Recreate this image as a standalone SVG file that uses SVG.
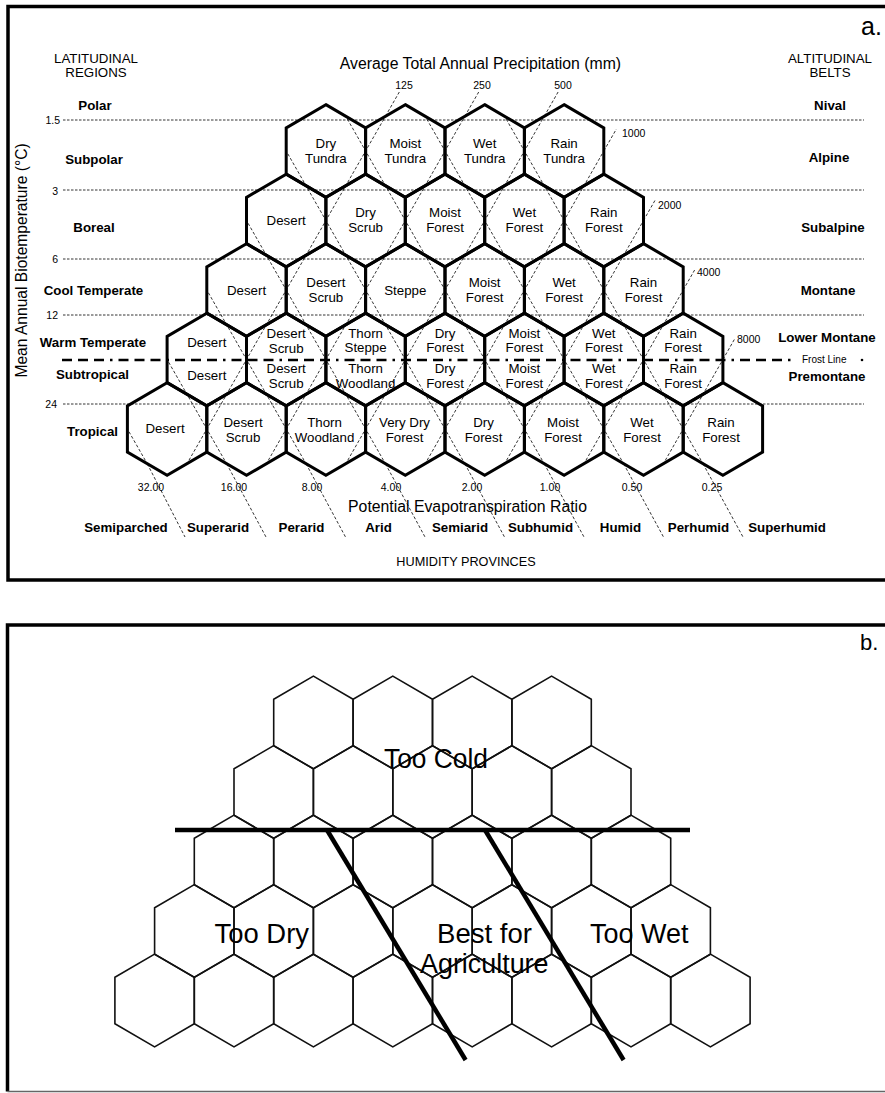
<svg xmlns="http://www.w3.org/2000/svg" width="885" height="1093" viewBox="0 0 885 1093">
<style>
text { font-family: "Liberation Sans", Arial, Helvetica, sans-serif; fill: #000; }
.hl { font-size: 13.3px; text-anchor: middle; }
.b { font-size: 13.3px; font-weight: bold; text-anchor: middle; }
.n { font-size: 10.5px; }
.nc { font-size: 10.5px; text-anchor: middle; }
.t { font-size: 15.8px; text-anchor: middle; }
.cap { font-size: 13.3px; text-anchor: middle; }
.ha { fill: none; stroke: #000; stroke-width: 3; }
.hb { fill: none; stroke: #111; stroke-width: 1.6; }
.g { stroke: #000; stroke-width: 0.8; stroke-dasharray: 3 2; fill: none; }
.hz { stroke: #000; stroke-width: 0.8; stroke-dasharray: 2.5 1.5; fill: none; }
.frost { stroke: #000; stroke-width: 2.6; stroke-dasharray: 10 6 10 6 10 6 2.5 6; fill: none; }
.frame { fill: none; stroke: #000; stroke-width: 3.5; }
.thick { stroke: #000; stroke-width: 4.5; fill: none; }
.big { font-size: 27px; }
</style>
<defs>
<polygon id="hx" points="0,-46.33 39.7,-23.17 39.7,23.17 0,46.33 -39.7,23.17 -39.7,-23.17"/>
<clipPath id="hexclip">
<use href="#hx" x="325.9" y="151"/><use href="#hx" x="405.3" y="151"/><use href="#hx" x="484.7" y="151"/><use href="#hx" x="564.1" y="151"/>
<use href="#hx" x="286.2" y="220.5"/><use href="#hx" x="365.6" y="220.5"/><use href="#hx" x="445" y="220.5"/><use href="#hx" x="524.4" y="220.5"/><use href="#hx" x="603.8" y="220.5"/>
<use href="#hx" x="246.5" y="290"/><use href="#hx" x="325.9" y="290"/><use href="#hx" x="405.3" y="290"/><use href="#hx" x="484.7" y="290"/><use href="#hx" x="564.1" y="290"/><use href="#hx" x="643.5" y="290"/>
<use href="#hx" x="206.8" y="359.5"/><use href="#hx" x="286.2" y="359.5"/><use href="#hx" x="365.6" y="359.5"/><use href="#hx" x="445" y="359.5"/><use href="#hx" x="524.4" y="359.5"/><use href="#hx" x="603.8" y="359.5"/><use href="#hx" x="683.2" y="359.5"/>
<use href="#hx" x="167.1" y="429"/><use href="#hx" x="246.5" y="429"/><use href="#hx" x="325.9" y="429"/><use href="#hx" x="405.3" y="429"/><use href="#hx" x="484.7" y="429"/><use href="#hx" x="564.1" y="429"/><use href="#hx" x="643.5" y="429"/><use href="#hx" x="722.9" y="429"/>
</clipPath>
</defs>
<rect width="885" height="1093" fill="#fff"/>

<!-- Panel a frame -->
<path class="frame" d="M885,6.5 H8 V580 H885"/>
<text x="861" y="35" style="font-size:25px">a.</text>

<!-- Header texts -->
<text class="cap" x="96" y="63">LATITUDINAL</text>
<text class="cap" x="96" y="77">REGIONS</text>
<text class="cap" x="830" y="63">ALTITUDINAL</text>
<text class="cap" x="830" y="77">BELTS</text>
<text class="t" x="480.5" y="69">Average Total Annual Precipitation (mm)</text>
<text class="t" transform="translate(26.5,260.5) rotate(-90)" style="font-size:15.6px">Mean Annual Biotemperature (°C)</text>

<!-- Latitudinal regions -->
<g id="latitudinal-regions">
<text class="b" x="95" y="110">Polar</text>
<text class="b" x="94" y="164">Subpolar</text>
<text class="b" x="94" y="232">Boreal</text>
<text class="b" x="93.5" y="295">Cool Temperate</text>
<text class="b" x="93" y="347">Warm Temperate</text>
<text class="b" x="92.5" y="379">Subtropical</text>
<text class="b" x="92.5" y="436">Tropical</text>
</g>
<g id="altitudinal-belts">
<text class="b" x="830" y="110">Nival</text>
<text class="b" x="829" y="162">Alpine</text>
<text class="b" x="833" y="232">Subalpine</text>
<text class="b" x="828" y="295">Montane</text>
<text class="b" x="827" y="342">Lower Montane</text>
<text class="b" x="827" y="381">Premontane</text>
</g>

<!-- Temperature scale numbers -->
<g id="temperature-scale" style="text-anchor:end">
<text class="n" x="60" y="123.5">1.5</text>
<text class="n" x="58" y="195">3</text>
<text class="n" x="58" y="263">6</text>
<text class="n" x="58" y="319">12</text>
<text class="n" x="57" y="408">24</text>
</g>

<!-- Connectors / guide lines -->
<g id="connectors">
<g id="biotemperature-lines">
<line class="hz" x1="63" y1="120" x2="864" y2="120"/>
<line class="hz" x1="63" y1="190" x2="864" y2="190"/>
<line class="hz" x1="63" y1="259" x2="864" y2="259"/>
<line class="hz" x1="63" y1="315" x2="864" y2="315"/>
<line class="hz" x1="63" y1="404" x2="864" y2="404"/>
</g>
<g id="guide-lines-in-hexes" clip-path="url(#hexclip)">
<line class="g" x1="406.16" y1="80" x2="177.68" y2="480"/>
<line class="g" x1="485.56" y1="80" x2="257.08" y2="480"/>
<line class="g" x1="564.96" y1="80" x2="336.48" y2="480"/>
<line class="g" x1="644.36" y1="80" x2="415.88" y2="480"/>
<line class="g" x1="723.76" y1="80" x2="495.28" y2="480"/>
<line class="g" x1="803.16" y1="80" x2="574.68" y2="480"/>
<line class="g" x1="882.56" y1="80" x2="654.08" y2="480"/>
<line class="g" x1="-71.95" y1="80" x2="156.53" y2="480"/>
<line class="g" x1="7.45" y1="80" x2="235.93" y2="480"/>
<line class="g" x1="86.85" y1="80" x2="315.33" y2="480"/>
<line class="g" x1="166.25" y1="80" x2="394.73" y2="480"/>
<line class="g" x1="245.65" y1="80" x2="474.13" y2="480"/>
<line class="g" x1="325.05" y1="80" x2="553.53" y2="480"/>
<line class="g" x1="404.45" y1="80" x2="632.93" y2="480"/>
<line class="g" x1="483.85" y1="80" x2="712.33" y2="480"/>
</g>
<g id="precipitation-extensions">
<line class="g" x1="385.45" y1="116.24" x2="399.3" y2="92"/>
<line class="g" x1="464.85" y1="116.24" x2="478.7" y2="92"/>
<line class="g" x1="544.25" y1="116.24" x2="558.1" y2="92"/>
<line class="g" x1="603.8" y1="151" x2="616.4" y2="129"/>
<line class="g" x1="643.5" y1="220.5" x2="655.5" y2="199.5"/>
<line class="g" x1="683.2" y1="290" x2="695.2" y2="269"/>
<line class="g" x1="722.9" y1="359.5" x2="734.9" y2="338.5"/>
</g>
<g id="pet-extensions">
<line class="g" x1="147.25" y1="463.76" x2="185" y2="537"/>
<line class="g" x1="226.65" y1="463.76" x2="266" y2="537"/>
<line class="g" x1="306.05" y1="463.76" x2="345.5" y2="537"/>
<line class="g" x1="385.45" y1="463.76" x2="425" y2="537"/>
<line class="g" x1="464.85" y1="463.76" x2="504.5" y2="537"/>
<line class="g" x1="544.25" y1="463.76" x2="584" y2="537"/>
<line class="g" x1="623.65" y1="463.76" x2="663.5" y2="537"/>
<line class="g" x1="703.05" y1="463.76" x2="743" y2="537"/>
</g>
<line id="frost-line" class="frost" x1="62" y1="360" x2="792" y2="360"/>
</g>
<text x="802" y="363" style="font-size:10px">Frost Line</text>
<circle cx="862" cy="360" r="1.3" fill="#000"/>

<!-- Precipitation labels -->
<g id="precipitation-labels">
<text class="nc" x="404" y="89">125</text>
<text class="nc" x="482" y="89">250</text>
<text class="nc" x="563" y="89">500</text>
<text class="n" x="622" y="137">1000</text>
<text class="n" x="658" y="209">2000</text>
<text class="n" x="697" y="276">4000</text>
<text class="n" x="737" y="343">8000</text>
</g>
<!-- PET ratio labels -->
<g id="pet-labels">
<text class="nc" x="151" y="491">32.00</text>
<text class="nc" x="234" y="491">16.00</text>
<text class="nc" x="312" y="491">8.00</text>
<text class="nc" x="391" y="491">4.00</text>
<text class="nc" x="472" y="491">2.00</text>
<text class="nc" x="550" y="491">1.00</text>
<text class="nc" x="632" y="491">0.50</text>
<text class="nc" x="712" y="491">0.25</text>
</g>
<text class="t" x="467.5" y="512">Potential Evapotranspiration Ratio</text>
<g id="humidity-provinces">
<text class="b" x="126" y="532">Semiparched</text>
<text class="b" x="218" y="532">Superarid</text>
<text class="b" x="301.5" y="532">Perarid</text>
<text class="b" x="378.5" y="532">Arid</text>
<text class="b" x="460" y="532">Semiarid</text>
<text class="b" x="540.5" y="532">Subhumid</text>
<text class="b" x="620.5" y="532">Humid</text>
<text class="b" x="698.5" y="532">Perhumid</text>
<text class="b" x="787" y="532">Superhumid</text>
</g>
<text class="cap" x="466" y="566" style="font-size:12.7px">HUMIDITY PROVINCES</text>

<!-- Hexagon nodes, panel a -->
<g id="a-r1-dry-tundra"><use href="#hx" class="ha" x="325.9" y="151"/><text class="hl" x="325.9" y="147.5">Dry<tspan x="325.9" dy="15">Tundra</tspan></text></g>
<g id="a-r1-moist-tundra"><use href="#hx" class="ha" x="405.3" y="151"/><text class="hl" x="405.3" y="147.5">Moist<tspan x="405.3" dy="15">Tundra</tspan></text></g>
<g id="a-r1-wet-tundra"><use href="#hx" class="ha" x="484.7" y="151"/><text class="hl" x="484.7" y="147.5">Wet<tspan x="484.7" dy="15">Tundra</tspan></text></g>
<g id="a-r1-rain-tundra"><use href="#hx" class="ha" x="564.1" y="151"/><text class="hl" x="564.1" y="147.5">Rain<tspan x="564.1" dy="15">Tundra</tspan></text></g>

<g id="a-r2-desert"><use href="#hx" class="ha" x="286.2" y="220.5"/><text class="hl" x="286.2" y="225">Desert</text></g>
<g id="a-r2-dry-scrub"><use href="#hx" class="ha" x="365.6" y="220.5"/><text class="hl" x="365.6" y="217">Dry<tspan x="365.6" dy="15">Scrub</tspan></text></g>
<g id="a-r2-moist-forest"><use href="#hx" class="ha" x="445" y="220.5"/><text class="hl" x="445" y="217">Moist<tspan x="445" dy="15">Forest</tspan></text></g>
<g id="a-r2-wet-forest"><use href="#hx" class="ha" x="524.4" y="220.5"/><text class="hl" x="524.4" y="217">Wet<tspan x="524.4" dy="15">Forest</tspan></text></g>
<g id="a-r2-rain-forest"><use href="#hx" class="ha" x="603.8" y="220.5"/><text class="hl" x="603.8" y="217">Rain<tspan x="603.8" dy="15">Forest</tspan></text></g>

<g id="a-r3-desert"><use href="#hx" class="ha" x="246.5" y="290"/><text class="hl" x="246.5" y="294.5">Desert</text></g>
<g id="a-r3-desert-scrub"><use href="#hx" class="ha" x="325.9" y="290"/><text class="hl" x="325.9" y="286.5">Desert<tspan x="325.9" dy="15">Scrub</tspan></text></g>
<g id="a-r3-steppe"><use href="#hx" class="ha" x="405.3" y="290"/><text class="hl" x="405.3" y="294.5">Steppe</text></g>
<g id="a-r3-moist-forest"><use href="#hx" class="ha" x="484.7" y="290"/><text class="hl" x="484.7" y="286.5">Moist<tspan x="484.7" dy="15">Forest</tspan></text></g>
<g id="a-r3-wet-forest"><use href="#hx" class="ha" x="564.1" y="290"/><text class="hl" x="564.1" y="286.5">Wet<tspan x="564.1" dy="15">Forest</tspan></text></g>
<g id="a-r3-rain-forest"><use href="#hx" class="ha" x="643.5" y="290"/><text class="hl" x="643.5" y="286.5">Rain<tspan x="643.5" dy="15">Forest</tspan></text></g>

<g id="a-r4-desert"><use href="#hx" class="ha" x="206.8" y="359.5"/><text class="hl" x="206.8" y="347">Desert</text><text class="hl" x="206.8" y="380">Desert</text></g>
<g id="a-r4-desert-scrub"><use href="#hx" class="ha" x="286.2" y="359.5"/><text class="hl" x="286.2" y="338">Desert<tspan x="286.2" dy="14.5">Scrub</tspan></text><text class="hl" x="286.2" y="373">Desert<tspan x="286.2" dy="15">Scrub</tspan></text></g>
<g id="a-r4-thorn"><use href="#hx" class="ha" x="365.6" y="359.5"/><text class="hl" x="365.6" y="337.5">Thorn<tspan x="365.6" dy="14.5">Steppe</tspan></text><text class="hl" x="365.6" y="373">Thorn<tspan x="365.6" dy="15">Woodland</tspan></text></g>
<g id="a-r4-dry-forest"><use href="#hx" class="ha" x="445" y="359.5"/><text class="hl" x="445" y="337.5">Dry<tspan x="445" dy="14.5">Forest</tspan></text><text class="hl" x="445" y="373">Dry<tspan x="445" dy="15">Forest</tspan></text></g>
<g id="a-r4-moist-forest"><use href="#hx" class="ha" x="524.4" y="359.5"/><text class="hl" x="524.4" y="337.5">Moist<tspan x="524.4" dy="14.5">Forest</tspan></text><text class="hl" x="524.4" y="373">Moist<tspan x="524.4" dy="15">Forest</tspan></text></g>
<g id="a-r4-wet-forest"><use href="#hx" class="ha" x="603.8" y="359.5"/><text class="hl" x="603.8" y="337.5">Wet<tspan x="603.8" dy="14.5">Forest</tspan></text><text class="hl" x="603.8" y="373">Wet<tspan x="603.8" dy="15">Forest</tspan></text></g>
<g id="a-r4-rain-forest"><use href="#hx" class="ha" x="683.2" y="359.5"/><text class="hl" x="683.2" y="337.5">Rain<tspan x="683.2" dy="14.5">Forest</tspan></text><text class="hl" x="683.2" y="373">Rain<tspan x="683.2" dy="15">Forest</tspan></text></g>

<g id="a-r5-desert"><use href="#hx" class="ha" x="167.1" y="429"/><text class="hl" x="165" y="433">Desert</text></g>
<g id="a-r5-desert-scrub"><use href="#hx" class="ha" x="246.5" y="429"/><text class="hl" x="243" y="427">Desert<tspan x="243" dy="15">Scrub</tspan></text></g>
<g id="a-r5-thorn-woodland"><use href="#hx" class="ha" x="325.9" y="429"/><text class="hl" x="324.5" y="427">Thorn<tspan x="324.5" dy="15">Woodland</tspan></text></g>
<g id="a-r5-very-dry-forest"><use href="#hx" class="ha" x="405.3" y="429"/><text class="hl" x="404.5" y="427">Very Dry<tspan x="404.5" dy="15">Forest</tspan></text></g>
<g id="a-r5-dry-forest"><use href="#hx" class="ha" x="484.7" y="429"/><text class="hl" x="483.5" y="427">Dry<tspan x="483.5" dy="15">Forest</tspan></text></g>
<g id="a-r5-moist-forest"><use href="#hx" class="ha" x="564.1" y="429"/><text class="hl" x="563" y="427">Moist<tspan x="563" dy="15">Forest</tspan></text></g>
<g id="a-r5-wet-forest"><use href="#hx" class="ha" x="643.5" y="429"/><text class="hl" x="642" y="427">Wet<tspan x="642" dy="15">Forest</tspan></text></g>
<g id="a-r5-rain-forest"><use href="#hx" class="ha" x="722.9" y="429"/><text class="hl" x="721" y="427">Rain<tspan x="721" dy="15">Forest</tspan></text></g>

<!-- Panel b -->
<path class="frame" d="M885,625 H7.5 V1091.5"/>
<line x1="7.5" y1="1091.5" x2="885" y2="1091.5" stroke="#666" stroke-width="1.5"/>
<text x="860" y="650" style="font-size:22px">b.</text>

<g id="b-hexes">
<use id="b-r1-1" href="#hx" class="hb" x="313.4" y="722.5"/><use id="b-r1-2" href="#hx" class="hb" x="392.8" y="722.5"/><use id="b-r1-3" href="#hx" class="hb" x="472.2" y="722.5"/><use id="b-r1-4" href="#hx" class="hb" x="551.6" y="722.5"/>
<use id="b-r2-1" href="#hx" class="hb" x="273.7" y="792"/><use id="b-r2-2" href="#hx" class="hb" x="353.1" y="792"/><use id="b-r2-3" href="#hx" class="hb" x="432.5" y="792"/><use id="b-r2-4" href="#hx" class="hb" x="511.9" y="792"/><use id="b-r2-5" href="#hx" class="hb" x="591.3" y="792"/>
<use id="b-r3-1" href="#hx" class="hb" x="234" y="861.5"/><use id="b-r3-2" href="#hx" class="hb" x="313.4" y="861.5"/><use id="b-r3-3" href="#hx" class="hb" x="392.8" y="861.5"/><use id="b-r3-4" href="#hx" class="hb" x="472.2" y="861.5"/><use id="b-r3-5" href="#hx" class="hb" x="551.6" y="861.5"/><use id="b-r3-6" href="#hx" class="hb" x="631" y="861.5"/>
<use id="b-r4-1" href="#hx" class="hb" x="194.3" y="931"/><use id="b-r4-2" href="#hx" class="hb" x="273.7" y="931"/><use id="b-r4-3" href="#hx" class="hb" x="353.1" y="931"/><use id="b-r4-4" href="#hx" class="hb" x="432.5" y="931"/><use id="b-r4-5" href="#hx" class="hb" x="511.9" y="931"/><use id="b-r4-6" href="#hx" class="hb" x="591.3" y="931"/><use id="b-r4-7" href="#hx" class="hb" x="670.7" y="931"/>
<use id="b-r5-1" href="#hx" class="hb" x="154.6" y="1000.5"/><use id="b-r5-2" href="#hx" class="hb" x="234" y="1000.5"/><use id="b-r5-3" href="#hx" class="hb" x="313.4" y="1000.5"/><use id="b-r5-4" href="#hx" class="hb" x="392.8" y="1000.5"/><use id="b-r5-5" href="#hx" class="hb" x="472.2" y="1000.5"/><use id="b-r5-6" href="#hx" class="hb" x="551.6" y="1000.5"/><use id="b-r5-7" href="#hx" class="hb" x="631" y="1000.5"/><use id="b-r5-8" href="#hx" class="hb" x="710.4" y="1000.5"/>
</g>
<g id="b-connectors">
<line class="thick" x1="175" y1="830" x2="690" y2="830"/>
<line class="thick" x1="327" y1="830" x2="465.6" y2="1060"/>
<line class="thick" x1="485" y1="830" x2="623.6" y2="1060"/>
</g>
<g id="b-labels">
<text class="big" x="384" y="768" textLength="104" lengthAdjust="spacingAndGlyphs">Too Cold</text>
<text class="big" x="214.5" y="943" textLength="94.5" lengthAdjust="spacingAndGlyphs">Too Dry</text>
<text class="big" x="437" y="943" textLength="95" lengthAdjust="spacingAndGlyphs">Best for</text>
<text class="big" x="420" y="973" textLength="128.5" lengthAdjust="spacingAndGlyphs">Agriculture</text>
<text class="big" x="590" y="943" textLength="98.5" lengthAdjust="spacingAndGlyphs">Too Wet</text>
</g>
</svg>
